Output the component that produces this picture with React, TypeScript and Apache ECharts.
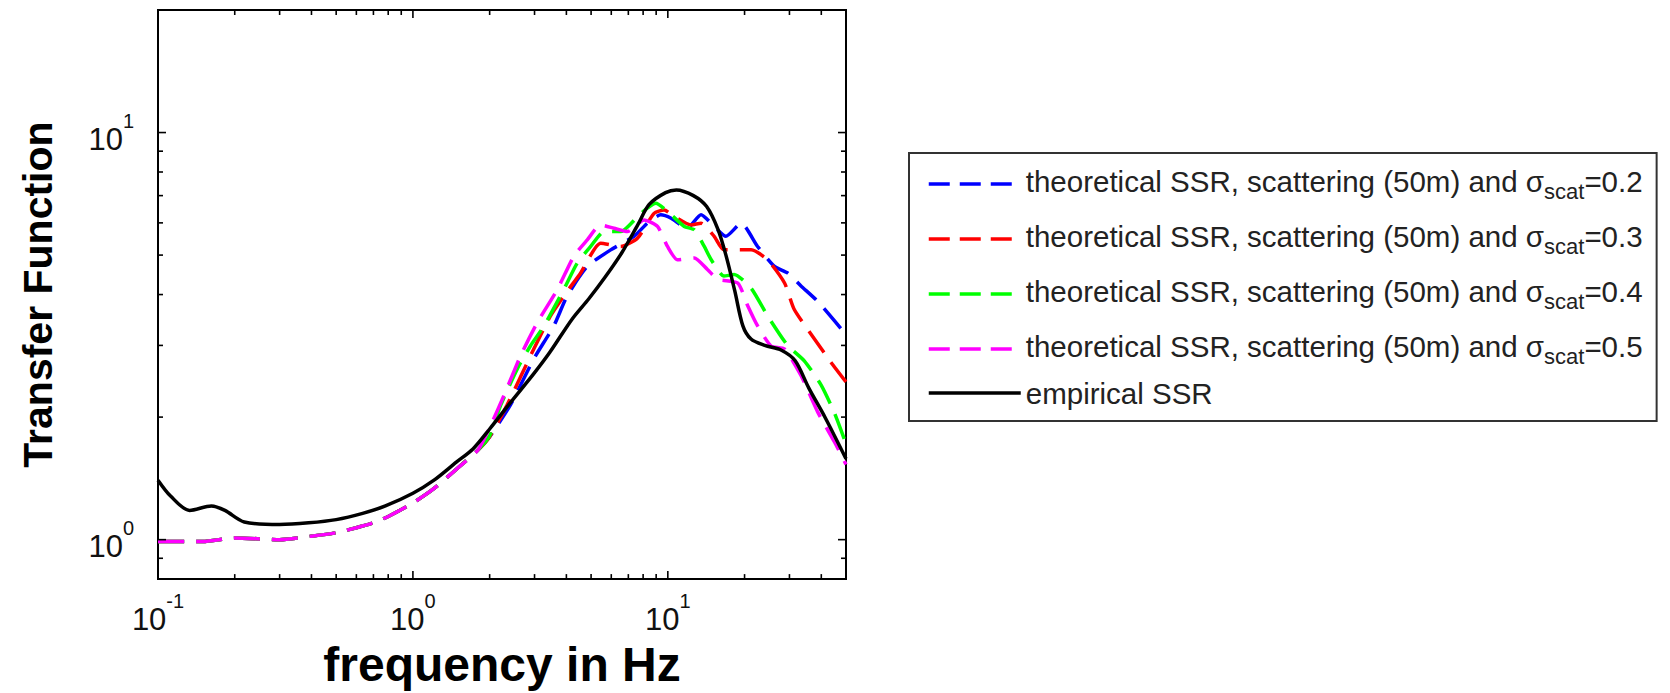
import React, { useEffect, useRef } from 'react';
import * as echarts from 'echarts';

// ---- data (frequency in Hz, transfer function) ----
const lowFreq = [0.1, 0.15, 0.2, 0.3, 0.4, 0.5, 0.6, 0.7, 0.8, 1.0, 1.2, 1.5, 1.8];
const lowTF = [0.99, 0.99, 1.01, 1.0, 1.02, 1.04, 1.07, 1.10, 1.14, 1.23, 1.33, 1.50, 1.66];

const sigma02Freq = [2.0, 2.41, 2.98, 3.57, 4.03, 4.83, 5.97, 7.37, 8.32, 9.38, 10.3, 11.9, 13.5, 15.2, 16.9, 19.4, 22.5, 26.2, 29.5, 33.3, 38.7, 45, 50];
const sigma02TF = [1.79, 2.14, 2.78, 3.35, 3.97, 4.69, 5.15, 5.56, 5.99, 6.28, 6.16, 5.82, 6.28, 5.88, 5.56, 5.99, 5.25, 4.69, 4.52, 4.20, 3.85, 3.45, 3.19];

const sigma03Freq = [2.0, 2.34, 2.98, 3.47, 3.91, 4.55, 5.45, 6.53, 7.6, 8.83, 9.67, 10.6, 12.3, 13.5, 15.2, 16.6, 21.2, 24.6, 28.7, 31.3, 37.6, 43.6, 50];
const sigma03TF = [1.79, 2.14, 2.94, 3.55, 3.97, 4.52, 5.35, 5.25, 5.50, 6.33, 6.45, 6.22, 5.93, 5.99, 5.56, 5.15, 5.15, 4.87, 4.27, 3.68, 3.11, 2.73, 2.44];

const sigma04Freq = [2.0, 2.21, 2.57, 2.89, 3.27, 3.91, 4.41, 4.98, 5.62, 6.53, 7.83, 8.97, 10.3, 11.6, 12.7, 13.9, 14.8, 16.6, 18.2, 21.2, 24.6, 29.5, 34.3, 39.9, 45, 50];
const sigma04TF = [1.80, 2.14, 2.63, 2.99, 3.35, 4.12, 4.78, 5.25, 5.71, 5.71, 6.33, 6.70, 6.28, 5.88, 5.77, 5.25, 4.87, 4.44, 4.48, 4.15, 3.55, 3.0, 2.75, 2.4, 2.05, 1.72];

const sigma05Freq = [2.02, 2.275, 2.645, 3.08, 3.69, 4.28, 4.83, 5.45, 6.15, 6.94, 8.07, 9.11, 9.97, 10.9, 12.7, 14.3, 15.7, 18.8, 20.6, 22.5, 25.4, 28.7, 33.3, 38.7, 45, 50];
const sigma05TF = [1.91, 2.26, 2.83, 3.42, 4.12, 4.97, 5.45, 5.93, 5.82, 5.71, 6.10, 5.88, 5.25, 4.87, 4.92, 4.61, 4.36, 4.27, 3.75, 3.35, 2.99, 2.94, 2.53, 2.06, 1.74, 1.53];

const empiricalFreq = [0.1, 0.112, 0.133, 0.162, 0.183, 0.218, 0.30, 0.39, 0.50, 0.635, 0.78, 1.0, 1.21, 1.48, 1.72, 2.0, 2.44, 2.97, 3.45, 4.21, 4.89, 5.67, 6.59, 7.64, 8.45, 9.8, 10.8, 12.6, 14.2, 15.7, 16.9, 18.3, 19.7, 21.2, 24.0, 27.9, 31.6, 35.7, 41.5, 50];
const empiricalTF = [1.40, 1.28, 1.18, 1.21, 1.18, 1.105, 1.09, 1.10, 1.12, 1.16, 1.21, 1.30, 1.40, 1.55, 1.67, 1.87, 2.19, 2.55, 2.89, 3.48, 3.90, 4.41, 5.06, 5.95, 6.66, 7.12, 7.23, 7.0, 6.58, 5.80, 5.0, 4.09, 3.35, 3.11, 3.0, 2.92, 2.75, 2.36, 1.99, 1.58];

const seriesNames = [
  'theoretical SSR, scattering (50m) and σscat=0.2',
  'theoretical SSR, scattering (50m) and σscat=0.3',
  'theoretical SSR, scattering (50m) and σscat=0.4',
  'theoretical SSR, scattering (50m) and σscat=0.5',
  'empirical SSR',
];
const seriesColors = ['#0000ff', '#ff0000', '#00ff00', '#ff00ff', '#000000'];

const xMajorTicks = [1, 10];
const xMinorTicks = [0.2, 0.3, 0.4, 0.5, 0.6, 0.7, 0.8, 0.9, 2, 3, 4, 5, 6, 7, 8, 9, 20, 30, 40];
const yMajorTicks = [1, 10];
const yMinorTicks = [0.9, 2, 3, 4, 5, 6, 7, 8, 9];

const FONT = "'Liberation Sans', Arial, Helvetica, sans-serif";

const zip = (xs: number[], ys: number[]) => xs.map((x, i) => [x, ys[i]]);

const powLabel = (v: number) => {
  const e = Math.log10(v);
  const r = Math.round(e);
  return Math.abs(e - r) < 1e-6 ? `{b|10}{s|${r}}` : '';
};

const labelRich = {
  b: { fontSize: 31, lineHeight: 44, verticalAlign: 'bottom', fontFamily: FONT, color: '#111' },
  s: { fontSize: 20, lineHeight: 20, verticalAlign: 'top', fontFamily: FONT, color: '#111' },
};

const tickSeries = (values: number[], axis: 'x' | 'y', len: number) => ({
  type: 'custom',
  silent: true,
  z: 10,
  clip: false,
  data: values.map((v) => (axis === 'x' ? [v, 1] : [1, v])),
  renderItem: (params: any, api: any) => {
    const cs = params.coordSys;
    const p = api.coord([api.value(0), api.value(1)]);
    const style = { stroke: '#000', lineWidth: 1.6 };
    if (axis === 'x') {
      return {
        type: 'group',
        children: [
          { type: 'line', shape: { x1: p[0], y1: cs.y + cs.height, x2: p[0], y2: cs.y + cs.height - len }, style },
          { type: 'line', shape: { x1: p[0], y1: cs.y, x2: p[0], y2: cs.y + len }, style },
        ],
      };
    }
    return {
      type: 'group',
      children: [
        { type: 'line', shape: { x1: cs.x, y1: p[1], x2: cs.x + len, y2: p[1] }, style },
        { type: 'line', shape: { x1: cs.x + cs.width, y1: p[1], x2: cs.x + cs.width - len, y2: p[1] }, style },
      ],
    };
  },
});

export default function App() {
  const ref = useRef<HTMLDivElement>(null);
  useEffect(() => {
    if (!ref.current) return;
    const chart = echarts.init(ref.current, undefined, { renderer: 'svg' });
    const theo = [
      [sigma02Freq, sigma02TF],
      [sigma03Freq, sigma03TF],
      [sigma04Freq, sigma04TF],
      [sigma05Freq, sigma05TF],
    ];
    const lineSeries: any[] = theo.map(([f, v], i) => ({
      name: seriesNames[i],
      type: 'line',
      symbol: 'none',
      smooth: 0.2,
      data: zip([...lowFreq, ...f], [...lowTF, ...v]),
      lineStyle: { color: seriesColors[i], width: 3.5, type: [26, 12] },
      itemStyle: { color: seriesColors[i] },
      z: 3,
    }));
    lineSeries.push({
      name: seriesNames[4],
      type: 'line',
      symbol: 'none',
      smooth: 0.3,
      data: zip(empiricalFreq, empiricalTF),
      lineStyle: { color: '#000', width: 3.5, type: 'solid' },
      itemStyle: { color: '#000' },
      z: 4,
    });

    chart.setOption({
      animation: false,
      backgroundColor: '#fff',
      grid: {
        left: 158, top: 10, width: 688, height: 572,
        show: true, borderColor: '#000', borderWidth: 2, backgroundColor: 'transparent',
      },
      xAxis: {
        type: 'log', logBase: 10, min: 0.1, max: 50,
        name: 'frequency in Hz', nameLocation: 'middle', nameGap: 50,
        nameTextStyle: { fontSize: 48, fontWeight: 'bold', fontFamily: FONT, color: '#000' },
        axisLine: { show: false }, axisTick: { show: false }, splitLine: { show: false },
        axisLabel: { formatter: powLabel, margin: 12, rich: labelRich },
      },
      yAxis: {
        type: 'log', logBase: 10, min: 0.8, max: 20,
        name: 'Transfer Function', nameLocation: 'middle', nameGap: 100,
        nameTextStyle: { fontSize: 41, fontWeight: 'bold', fontFamily: FONT, color: '#000' },
        axisLine: { show: false }, axisTick: { show: false }, splitLine: { show: false },
        axisLabel: { formatter: powLabel, margin: 24, rich: labelRich },
      },
      legend: {
        data: seriesNames.map((name, i) =>
          i < 4 ? { name, lineStyle: { type: [21, 10], width: 3.5 } } : { name, lineStyle: { width: 3.5 } }
        ),
        orient: 'vertical',
        left: 909, top: 153,
        padding: [5, 14, 13, 18],
        itemWidth: 92, itemHeight: 14, itemGap: 11,
        borderColor: '#333', borderWidth: 2, backgroundColor: '#fff',
        selectedMode: false,
        itemStyle: { opacity: 0 },
        formatter: (name: string) => {
          const m = name.match(/^(.*σ)scat(=.*)$/);
          if (m) return `{t|${m[1]}}{sub|scat}{t|${m[2]}}`;
          return `{e|${name}}`;
        },
        textStyle: {
          fontFamily: FONT, color: '#222', fontSize: 29.5,
          rich: {
            t: { fontSize: 29.5, lineHeight: 36, verticalAlign: 'top', fontFamily: FONT, color: '#222' },
            sub: { fontSize: 22, lineHeight: 20, padding: [22, 0, 0, 0], verticalAlign: 'bottom', fontFamily: FONT, color: '#222' },
            e: { fontSize: 29.5, lineHeight: 18, fontFamily: FONT, color: '#222' },
          },
        },
      },
      series: [
        ...lineSeries,
        tickSeries(xMajorTicks, 'x', 8),
        tickSeries(xMinorTicks, 'x', 5),
        tickSeries(yMajorTicks, 'y', 8),
        tickSeries(yMinorTicks, 'y', 5),
      ],
    });
    return () => chart.dispose();
  }, []);
  return <div ref={ref} style={{ position: 'absolute', left: 0, top: 0, width: 1670, height: 693 }} />;
}
